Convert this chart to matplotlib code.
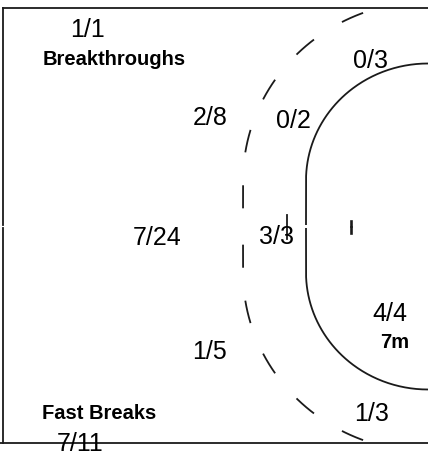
import numpy as np
import matplotlib
matplotlib.use("Agg")
import matplotlib.pyplot as plt

# ---------- Data ----------
zones = ["Breakthroughs", "Fast Breaks", "7m", "Left wing", "Left 6m", "Left 9m",
         "Centre 9m", "Centre 6m", "Right 9m", "Right wing"]
goals = [1, 7, 4, 0, 0, 2, 7, 3, 1, 1]
shots = [1, 11, 4, 3, 2, 8, 24, 3, 5, 3]
captions = {"Breakthroughs": "Breakthroughs", "Fast Breaks": "Fast Breaks", "7m": "7m"}

# ---------- Layout (pixel units of the court drawing) ----------
W, H = 428, 452
GOAL_X = 428          # goal line sits on the right edge
MID_Y = 227.5         # middle of the goal
POST = 46             # straight part half-length of 6m/9m lines
TOP, BOTTOM, LEFT = 9, 444, 3

# where each zone's score sits (x, baseline y)
zone_pos = {
    "Breakthroughs": (87.5, 37), "Fast Breaks": (80, 451), "7m": (390, 321),
    "Left wing": (371, 68), "Left 6m": (293, 128), "Left 9m": (210, 125),
    "Centre 9m": (157, 245), "Centre 6m": (277, 244), "Right 9m": (210, 359),
    "Right wing": (372, 421),
}
caption_pos = {"Breakthroughs": (114, 65), "Fast Breaks": (99, 419), "7m": (395, 348)}

plt.rcParams['font.family'] = ['Liberation Sans', 'DejaVu Sans']
plt.rcParams['lines.scale_dashes'] = False

LINE = "#1a1a1a"
LW = 1.3


def half_line(rx, ry, sign, gap=1.5, n=200):
    """Straight part from the middle out to the post, then quarter ellipse to the goal line."""
    xs = [GOAL_X - rx, GOAL_X - rx]
    ys = [MID_Y + sign * gap, MID_Y + sign * POST]
    th = np.linspace(0, np.pi / 2, n)
    xs = np.r_[xs, GOAL_X - rx * np.cos(th)]
    ys = np.r_[ys, MID_Y + sign * (POST + ry * np.sin(th))]
    keep = (ys >= TOP) & (ys <= BOTTOM)
    return xs[keep], ys[keep]


fig = plt.figure(figsize=(W / 100, H / 100), dpi=100)
ax = fig.add_axes([0, 0, 1, 1])
ax.set_xlim(0, W)
ax.set_ylim(H, 0)
ax.axis('off')

# court border (no right side)
ax.plot([LEFT, W], [TOP, TOP], color=LINE, lw=LW)
ax.plot([0, W], [BOTTOM, BOTTOM], color=LINE, lw=LW)
ax.plot([LEFT, LEFT], [TOP, MID_Y - 1.5], color=LINE, lw=LW)
ax.plot([LEFT, LEFT], [MID_Y + 1.5, BOTTOM], color=LINE, lw=LW)

# 6m and 9m lines, drawn as two mirrored halves
dash = (28.4, (16.6, 23.8))
for sign in (-1, 1):
    x6, y6 = half_line(122, 117, sign)
    ax.plot(x6, y6, color=LINE, lw=LW, solid_capstyle='butt')
    x9, y9 = half_line(185, 179, sign)
    ax.plot(x9, y9, color=LINE, lw=LW, linestyle=dash, dash_capstyle='butt')
    # 7m line and goalkeeper 4m mark
    ax.plot([287, 287], [MID_Y + sign * 1, MID_Y + sign * 12], color=LINE, lw=LW)
    ax.plot([351, 351], [MID_Y + sign * 0.8, MID_Y + sign * 6], color=LINE, lw=1.9)

# scores
for z, g, s in zip(zones, goals, shots):
    x, y = zone_pos[z]
    ax.text(x, y, f"{g}/{s}", fontsize=18, ha='center', va='baseline', color='black')

for z, label in captions.items():
    x, y = caption_pos[z]
    ax.text(x, y, label, fontsize=14.5, fontweight='bold', ha='center', va='baseline',
            color='black')

fig.savefig("out.png", dpi=100)
